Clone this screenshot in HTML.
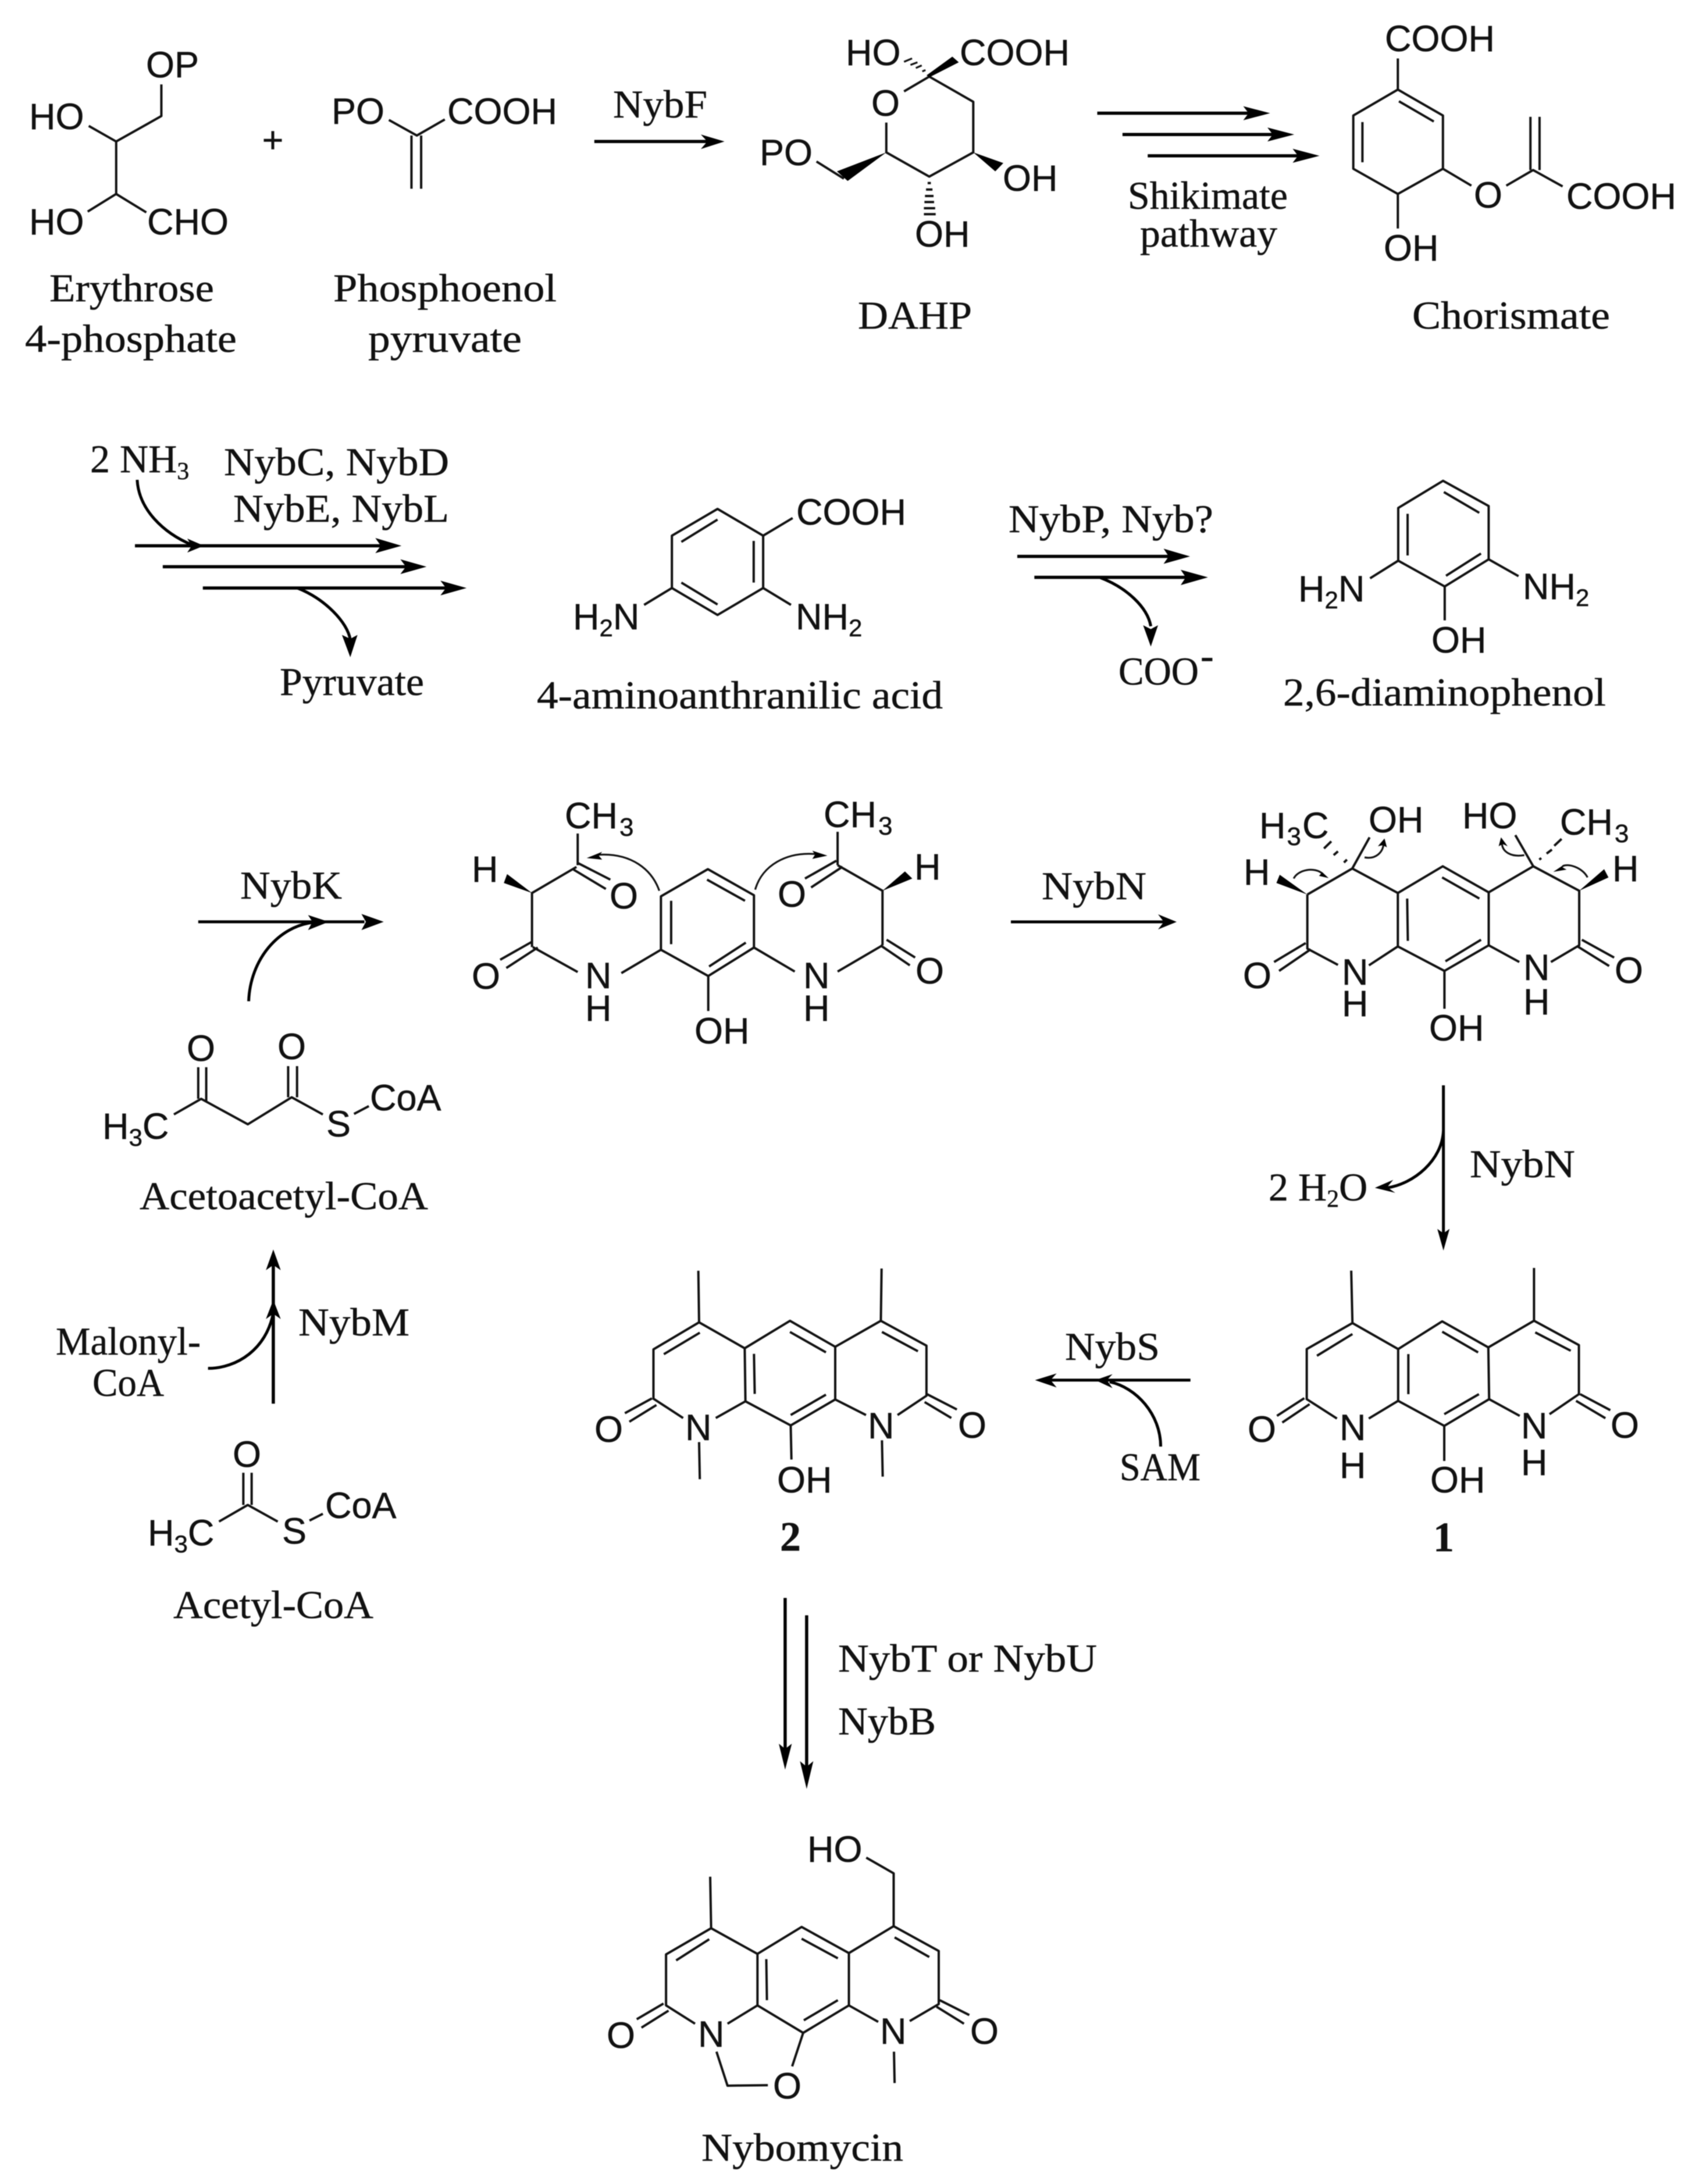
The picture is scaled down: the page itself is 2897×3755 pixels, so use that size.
<!DOCTYPE html>
<html><head><meta charset="utf-8"><style>
html,body{margin:0;padding:0;background:#fff}
svg{display:block;filter:blur(.7px)}
path{fill:none;stroke:#111;stroke-width:4;vector-effect:non-scaling-stroke;stroke-linejoin:round}
path.a{stroke:#000;stroke-width:5.5}
path.c{stroke:#000;stroke-width:5}
path.t{stroke-width:3.2}
polygon{fill:#000;stroke:none}
text{fill:#111;stroke:#111;stroke-width:.5}
.s{font-family:"Liberation Sans",sans-serif;font-size:63px}
.r{font-family:"Liberation Serif",serif;font-size:68px}
.b{font-family:"Liberation Serif",serif;font-size:72px;font-weight:bold}
</style></head><body>
<svg xmlns="http://www.w3.org/2000/svg" width="2897" height="3755" viewBox="0 0 2897 3755">
<rect width="2897" height="3755" fill="#fff"/>

<!-- Z1 -->
<g transform="scale(.92474,.44643)">
<path d="M300 325V447L216 545L165 485M216 545V747L163 815M216 747L272 818"/>
<path d="M723 462L775 522L827 460M765 522V727M783 522V727"/>
<path d="M1518 622L1569 688"/>
<path class="a" d="M1105 545H1315"/>
<polygon points="1347,545 1303,518 1315,545 1303,574"/>
</g>
<text class="s" x="251" y="133">OP</text>
<text class="s" x="50" y="222">HO</text>
<text class="s" x="50" y="403">HO</text>
<text class="s" x="253" y="403">CHO</text>
<text class="s" x="570" y="213">PO</text>
<text class="s" x="769" y="213" font-size="64">COOH</text>
<text class="s" x="1306" y="284">PO</text>
<text class="s" x="469" y="262" text-anchor="middle" font-size="58">+</text>
<text class="r" x="85" y="518" textLength="283" lengthAdjust="spacingAndGlyphs">Erythrose</text>
<text class="r" x="43" y="605" textLength="364" lengthAdjust="spacingAndGlyphs">4-phosphate</text>
<text class="r" x="573" y="518" textLength="384" lengthAdjust="spacingAndGlyphs">Phosphoenol</text>
<text class="r" x="633" y="605" textLength="264" lengthAdjust="spacingAndGlyphs">pyruvate</text>
<text class="r" x="1054" y="202" textLength="162" lengthAdjust="spacingAndGlyphs">NybF</text>

<!-- Z2 -->
<g transform="translate(1450,0) scale(.92285,.44643)">
<path d="M113 352L160 295L242 392V587L160 680L80 587V472"/>
<polygon points="160,298 215,240 203,218 155,290"/>
<polygon points="80,587 8,697 -12,660"/>
<polygon points="242,587 298,628 283,660"/>
<path class="t" d="M147 275L153 270M135 262L146 252M125 250L138 240M113 238L128 225"/>
<path d="M157 705H163M154 730H166M152 755H168M151 778H169M150 802H171M150 825H172"/>
<path class="a" d="M473 436H755M520 518H802M567 600H850"/>
<polygon points="795,436 745,409 755,436 745,463"/>
<polygon points="840,518 790,491 800,518 790,545"/>
<polygon points="887,600 837,573 847,600 837,627"/>
<path d="M1033 345L1117 445V650L1033 747L950 650V445ZM1035 390L1100 468M967 470V625M1033 345V225M1033 747V880M1117 650L1170 715M1235 715L1285 655L1340 718M1280 655V450M1297 655V450"/>
</g>
<text class="s" x="1454" y="112">HO</text>
<text class="s" x="1650" y="112" font-size="64">COOH</text>
<text class="s" x="1498" y="199">O</text>
<text class="s" x="1724" y="328">OH</text>
<text class="s" x="1573" y="424">OH</text>
<text class="s" x="2381" y="88" font-size="64">COOH</text>
<text class="s" x="2534" y="357">O</text>
<text class="s" x="2693" y="359" font-size="64">COOH</text>
<text class="s" x="2379" y="448">OH</text>
<text class="r" x="1475" y="565" textLength="196" lengthAdjust="spacingAndGlyphs">DAHP</text>
<text class="r" x="1939" y="359" textLength="275" lengthAdjust="spacingAndGlyphs">Shikimate</text>
<text class="r" x="1960" y="424" textLength="236" lengthAdjust="spacingAndGlyphs">pathway</text>
<text class="r" x="2428" y="565" textLength="340" lengthAdjust="spacingAndGlyphs">Chorismate</text>

<!-- Z6 -->
<g transform="translate(100,720) scale(.95666,.33333)">
<path class="a" d="M138 655H585M188 763H630M260 873H700"/>
<polygon points="617,655 570,615 580,655 570,693"/>
<polygon points="262,655 232,618 240,655 232,690"/>
<polygon points="662,763 615,725 625,763 615,801"/>
<polygon points="734,873 687,835 697,873 687,911"/>
<polygon points="525,1230 510,1115 525,1135 538,1115"/>
<path class="c" d="M142 315C145 470 190 590 240 650M430 873C480 930 520 1050 525 1140"/>
<path d="M1185 465L1267 603V873L1185 1012L1103 873V603ZM1185 520L1120 635M1250 630V845M1120 845L1185 958M1267 603L1320 512M1103 873L1053 960M1267 873L1317 960"/>
</g>
<text class="r" x="155" y="812" font-size="65">2 NH<tspan font-size="42" dy="12">3</tspan></text>
<text class="r" x="385" y="817" textLength="387" lengthAdjust="spacingAndGlyphs">NybC, NybD</text>
<text class="r" x="401" y="897" textLength="371" lengthAdjust="spacingAndGlyphs">NybE, NybL</text>
<text class="r" x="481" y="1195" textLength="248" lengthAdjust="spacingAndGlyphs">Pyruvate</text>
<text class="r" x="923" y="1218" textLength="698" lengthAdjust="spacingAndGlyphs">4-aminoanthranilic acid</text>
<text class="s" x="1369" y="902" font-size="64">COOH</text>
<text class="s" x="985" y="1082">H<tspan font-size="42" dy="12">2</tspan><tspan dy="-12">N</tspan></text>
<text class="s" x="1368" y="1082">NH<tspan font-size="42" dy="12">2</tspan></text>

<!-- Z7 -->
<g transform="translate(1650,760) scale(.73341,.33333)">
<path class="a" d="M135 590H495M175 698H535"/>
<polygon points="540,590 478,550 490,590 478,628"/>
<polygon points="582,698 518,659 530,698 518,738"/>
<polygon points="448,1055 430,945 448,965 465,945"/>
<path class="c" d="M330 700C390 750 440 850 448 950"/>
<path d="M1133 200L1240 330V605L1137 745L1028 612V340ZM1135 258L1218 365M1050 370V585M1222 575L1140 690M1028 612L962 703M1240 605L1310 692M1137 745V920"/>
</g>
<text class="r" x="1734" y="915" textLength="352" lengthAdjust="spacingAndGlyphs">NybP, Nyb?</text>
<text class="r" x="1923" y="1177" textLength="138" lengthAdjust="spacingAndGlyphs">COO</text><text class="r" x="2064" y="1150" font-size="30">-</text>
<text class="r" x="2206" y="1213" textLength="555" lengthAdjust="spacingAndGlyphs">2,6-diaminophenol</text>
<text class="s" x="2232" y="1034">H<tspan font-size="42" dy="12">2</tspan><tspan dy="-12">N</tspan></text>
<text class="s" x="2618" y="1030">NH<tspan font-size="42" dy="12">2</tspan></text>
<text class="s" x="2461" y="1122">OH</text>

<!-- Z3 -->
<g transform="translate(700,1300) scale(.70151,.3827)">
<path d="M622 630L737 508L850 625V860L738 988L622 870ZM735 555L828 650M647 650V845M830 838L740 945M738 988V1145M622 870L525 975M418 970L308 858M305 835L228 915M320 860L243 952M306 858V615L415 498M418 480L498 555M408 510L487 597M418 490V348M850 860L950 968M1055 968L1165 850M1175 825L1245 905M1160 850L1232 940M1165 850V605L1055 490M1052 470L975 550M1067 497L990 590M1055 490V340"/>
<polygon points="306,615 237,570 245,530"/>
<polygon points="1165,605 1238,550 1220,518"/>
<path class="t" d="M618 605C600 510 550 435 470 443M853 600C870 490 930 430 1000 440"/>
<polygon points="440,458 478,430 470,448 478,465"/>
<polygon points="1030,447 993,425 1000,442 993,462"/>
</g>
<text class="s" x="971" y="1424">CH<tspan font-size="44" dx="3" dy="13">3</tspan></text>
<text class="s" x="1416" y="1422">CH<tspan font-size="44" dx="3" dy="13">3</tspan></text>
<text class="s" x="811" y="1516">H</text>
<text class="s" x="1048" y="1562">O</text>
<text class="s" x="1572" y="1512">H</text>
<text class="s" x="1337" y="1559">O</text>
<text class="s" x="811" y="1700">O</text>
<text class="s" x="1006" y="1699">N</text>
<text class="s" x="1006" y="1755">H</text>
<text class="s" x="1381" y="1699">N</text>
<text class="s" x="1381" y="1755">H</text>
<text class="s" x="1194" y="1794">OH</text>
<text class="s" x="1574" y="1691">O</text>
<path class="a" d="M1738 1585H2005" style="stroke-width:5"/>
<polygon points="2023,1585 1991,1572 2001,1585 1991,1598"/>
<text class="r" x="1791" y="1546" textLength="180" lengthAdjust="spacingAndGlyphs">NybN</text>

<!-- Z4 -->
<g transform="translate(2000,1300) scale(.57208,.3827)">
<path d="M433 622L568 505L705 615V855L618 940M525 938L433 865V622M705 615L840 495L978 612V850L845 965L705 855M838 545L950 640M733 640L735 830M955 825L848 922M978 612L1112 495L1250 605V850L1165 925M1070 925L978 850M428 840L333 925M443 868L348 965M1258 825L1355 905M1245 855L1340 943M845 965V1135M568 505L620 365M1112 495L1058 355"/>
<path d="M543 478L552 465M512 445L525 428M483 415L505 383M1130 465L1136 458M1152 438L1168 420M1175 403L1197 372"/>
<polygon points="433,622 340,570 350,533"/>
<polygon points="1250,605 1338,545 1325,508"/>
<path class="t" d="M392 550C405 510 455 495 480 530M605 455C640 465 660 430 662 395M1085 445C1045 455 1020 430 1018 395M1275 545C1260 500 1215 480 1200 495"/>
<polygon points="497,548 462,500 478,522 468,538"/>
<polygon points="665,370 645,405 660,400 672,410"/>
<polygon points="1015,365 1008,405 1020,395 1035,405"/>
<polygon points="1172,520 1205,487 1200,500 1212,510"/>
</g>
<text class="s" x="2165" y="1441">H<tspan font-size="44" dx="2" dy="12">3</tspan><tspan dx="2" dy="-12">C</tspan></text>
<text class="s" x="2353" y="1431">OH</text>
<text class="s" x="2514" y="1424">HO</text>
<text class="s" x="2682" y="1435">CH<tspan font-size="44" dx="3" dy="13">3</tspan></text>
<text class="s" x="2138" y="1521">H</text>
<text class="s" x="2772" y="1515">H</text>
<text class="s" x="2137" y="1699">O</text>
<text class="s" x="2307" y="1693">N</text>
<text class="s" x="2307" y="1747">H</text>
<text class="s" x="2619" y="1685">N</text>
<text class="s" x="2619" y="1744">H</text>
<text class="s" x="2457" y="1789">OH</text>
<text class="s" x="2776" y="1690">O</text>

<!-- Z8 -->
<g transform="translate(50,1400) scale(.5102,.89286)">
<path class="c" d="M570 207H1130M740 360C745 280 840 215 960 208"/>
<polygon points="1195,207 1120,192 1135,207 1120,223"/>
<polygon points="1010,207 940,194 955,207 940,223"/>
<path d="M488 578L580 548L737 597L885 545L990 578M570 548V487M597 552V487M873 545V485M903 545V485M1095 577L1145 562M640 1362L737 1330L838 1362M722 1330V1268M750 1330V1268M945 1360L990 1347"/>
<path class="a" d="M823 1135V860"/>
<path class="c" d="M603 1067C700 1067 800 1030 823 960"/>
<polygon points="823,838 798,878 823,868 848,878"/>
<polygon points="823,935 798,972 823,962 848,972"/>
</g>
<text class="r" x="413" y="1545" textLength="175" lengthAdjust="spacingAndGlyphs">NybK</text>
<text class="s" x="176" y="1958">H<tspan font-size="42" dy="12">3</tspan><tspan dy="-12">C</tspan></text>
<text class="s" x="321" y="1824">O</text>
<text class="s" x="477" y="1821">O</text>
<text class="s" x="561" y="1954">S</text>
<text class="s" x="636" y="1909">CoA</text>
<text class="r" x="240" y="2079" textLength="496" lengthAdjust="spacingAndGlyphs">Acetoacetyl-CoA</text>
<text class="r" x="513" y="2296" textLength="191" lengthAdjust="spacingAndGlyphs">NybM</text>
<text class="r" x="96" y="2329" textLength="249" lengthAdjust="spacingAndGlyphs">Malonyl-</text>
<text class="r" x="159" y="2400" textLength="123" lengthAdjust="spacingAndGlyphs">CoA</text>
<text class="s" x="400" y="2522">O</text>
<text class="s" x="254" y="2657">H<tspan font-size="42" dy="12">3</tspan><tspan dy="-12">C</tspan></text>
<text class="s" x="485" y="2654">S</text>
<text class="s" x="559" y="2610">CoA</text>
<text class="r" x="298" y="2782" textLength="344" lengthAdjust="spacingAndGlyphs">Acetyl-CoA</text>

<!-- Z9 -->
<g transform="translate(950,2100) scale(.63776)">
<path d="M393 133L395 272L518 342L640 268L762 338L885 268L1008 335V470L930 522M885 268L887 127M395 272L272 345V478L352 530M518 342L520 485L440 530M520 485L642 550L762 480V338M762 480L845 522M397 300L300 358M543 357L545 465M640 298L737 353M737 467L642 522M888 298L985 350M268 477L195 517M280 495L207 540M1010 466L1090 507M1003 487L1075 530M642 550L644 642M395 595L397 695M888 590L890 688"/>
<path class="a" d="M627 1015V1425M685 1062V1475"/>
<polygon points="627,1478 610,1408 627,1422 645,1408"/>
<polygon points="685,1530 667,1455 685,1470 703,1455"/>
</g>
<text class="s" x="1022" y="2479">O</text>
<text class="s" x="1178" y="2476">N</text>
<text class="s" x="1336" y="2566">OH</text>
<text class="s" x="1492" y="2473">N</text>
<text class="s" x="1647" y="2472">O</text>
<text class="b" x="1341" y="2666">2</text>
<text class="r" x="1441" y="2874" textLength="445" lengthAdjust="spacingAndGlyphs">NybT or NybU</text>
<text class="r" x="1441" y="2982" textLength="168" lengthAdjust="spacingAndGlyphs">NybB</text>

<!-- Z10 -->
<g transform="translate(1750,1800) scale(.70151,.57405)">
<path d="M817 670L820 827L932 905L1040 822L1153 900L1265 820L1375 893V1040L1303 1100M1265 820V662M820 827L708 905V1055L782 1113M932 905V1060L860 1113M932 1060L1045 1135L1155 1055L1153 900M1155 1055L1230 1105M820 860L733 925M957 920V1040M1040 853L1128 915M1130 1040L1045 1100M1268 855L1355 910M702 1052L635 1105M715 1070L648 1125M1378 1040L1452 1088M1368 1060L1440 1112M1045 1135V1240"/>
<path class="c" d="M1043 115V560M1043 250C1040 340 970 410 905 422M423 998H80M350 1197C350 1100 290 1020 225 1003"/>
<polygon points="1043,610 1028,545 1043,558 1058,545"/>
<polygon points="875,422 920,398 905,420 925,437"/>
<polygon points="42,998 95,978 80,998 95,1020"/>
<polygon points="190,998 232,980 218,998 232,1022"/>
</g>
<text class="r" x="2527" y="2024" textLength="181" lengthAdjust="spacingAndGlyphs">NybN</text>
<text class="r" x="2181" y="2064" font-size="66">2 H<tspan font-size="42" dy="11">2</tspan><tspan dy="-11">O</tspan></text>
<text class="r" x="1831" y="2338" textLength="163" lengthAdjust="spacingAndGlyphs">NybS</text>
<text class="r" x="1925" y="2545" textLength="139" lengthAdjust="spacingAndGlyphs">SAM</text>
<text class="s" x="2145" y="2479">O</text>
<text class="s" x="2303" y="2476">N</text>
<text class="s" x="2303" y="2541">H</text>
<text class="s" x="2615" y="2473">N</text>
<text class="s" x="2615" y="2536">H</text>
<text class="s" x="2459" y="2566">OH</text>
<text class="s" x="2769" y="2472">O</text>
<text class="b" x="2464" y="2667">1</text>

<!-- Z5 -->
<g transform="translate(950,3050) scale(.54201,.44964)">
<path d="M500 393L503 590L650 688L790 585L940 685L1082 582L1225 677V880L1133 945M1082 582V380L995 320M503 590L360 690V885L452 955M650 688V885L555 955M650 885L795 990L940 885V685M940 885L1033 948M497 632L392 713M678 708L680 865M790 630L905 705M905 865L797 942M1085 625L1195 700M352 878L267 938M368 905L282 970M1228 865L1322 922M1218 890L1305 955M795 990L760 1118M520 1062L555 1192L683 1190M1083 1062L1085 1182"/>
</g>
<text class="s" x="1388" y="3201">HO</text>
<text class="s" x="1043" y="3521">O</text>
<text class="s" x="1200" y="3519">N</text>
<text class="s" x="1329" y="3608">O</text>
<text class="s" x="1513" y="3514">N</text>
<text class="s" x="1668" y="3514">O</text>
<text class="r" x="1206" y="3715" textLength="347" lengthAdjust="spacingAndGlyphs">Nybomycin</text>
</svg>
</body></html>
